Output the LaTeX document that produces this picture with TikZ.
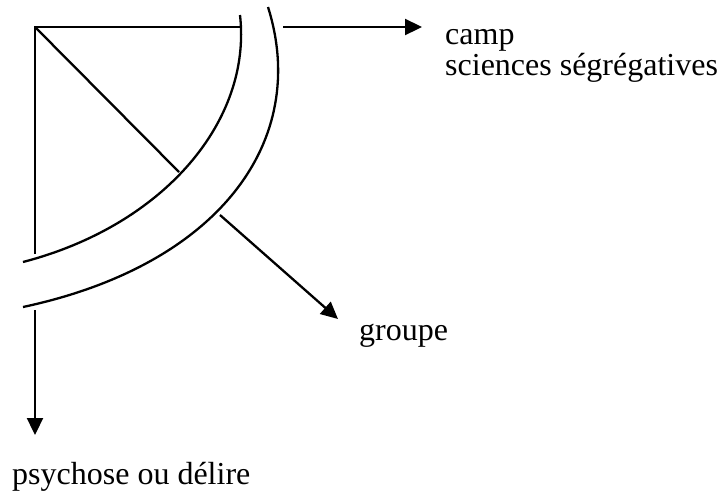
\documentclass[tikz,border=0pt]{standalone}
\usepackage{fontspec}
\setmainfont{Liberation Serif}
\usetikzlibrary{arrows.meta}
\begin{document}
\begin{tikzpicture}[x=1pt,y=-1pt,
  line/.style={line width=2.3pt},
  arrowline/.style={line width=2.3pt,-{Triangle[length=17pt,width=16pt]}},
  lbl/.style={anchor=base west,inner sep=0pt,font=\fontsize{32}{36}\selectfont}]
\useasboundingbox (0,0) rectangle (726,493);
% square frame and its diagonal
\coordinate (corner) at (35,27);
\coordinate (topend) at (242,27);
\coordinate (leftend) at (35,254);
\coordinate (diagend) at (179,172);
\draw[line] (leftend) -- (corner) -- (topend);
\draw[line] (corner) -- (diagend);
% the two curved bands
\coordinate (inA) at (240,15);
\coordinate (inB) at (23,262);
\coordinate (outA) at (268,7);
\coordinate (outB) at (23,307);
\draw[line] (inA) .. controls (252,120) and (165,225) .. (inB);
\draw[line] (outA) .. controls (310,140) and (220,265) .. (outB);
% arrows leading out
\coordinate (rstart) at (283,27);
\coordinate (rtip) at (422,27);
\coordinate (dstart) at (220,215);
\coordinate (dtip) at (338,319);
\coordinate (vstart) at (35,310);
\coordinate (vtip) at (35,435);
\draw[arrowline] (rstart) -- (rtip);
\draw[arrowline] (dstart) -- (dtip);
\draw[arrowline] (vstart) -- (vtip);
% labels
\node[lbl] (camp) at (445,44) {camp};
\node[lbl] (seg) at (445,75) {sciences ségrégatives};
\node[lbl] (grp) at (359,340) {groupe};
\node[lbl] (psy) at (12,484) {psychose ou délire};
\end{tikzpicture}
\end{document}
